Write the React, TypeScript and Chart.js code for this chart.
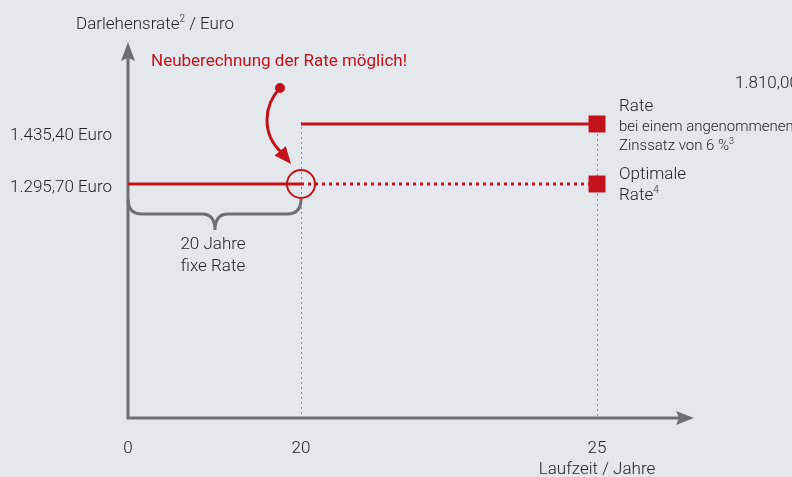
import React, { useEffect, useRef } from 'react';
import { Chart, registerables, LinearScale } from 'chart.js';

// ---- data ----
const X_TICKS = [0, 20, 25];
const YEARS_FIXED = [0, 20];
const YEARS_AFTER = [20, 25];
const RATE_FIXED = 1295.7;
const RATE_NEW = 1435.4;
const RATE_HIGH = 1810.0;
const Y_LABEL_VALUES = [RATE_NEW, RATE_FIXED];

// ---- axis layout (schematic, piecewise x axis) ----
const X_KNOTS = [0, 20, 25, 26.6];
const X_WEIGHTS = [173, 296, 93];
const Y_MIN = 750.9;
const Y_MAX = 1579.7;

const RED = '#c4121c';
const GREY = '#6c7074';
const TEXT = '#222325';
const BG = '#e4e8ec';

const fmt = (v: number) => {
  const [i, d] = v.toFixed(2).split('.');
  return i.replace(/\B(?=(\d{3})+(?!\d))/g, '.') + ',' + d;
};

class PiecewiseScale extends LinearScale {
  static id = 'piecewise';
  static defaults = LinearScale.defaults;
  getPixelForValue(value: number) {
    const total = X_WEIGHTS.reduce((a, b) => a + b, 0);
    let acc = 0;
    for (let i = 0; i < X_WEIGHTS.length; i++) {
      const a = X_KNOTS[i], b = X_KNOTS[i + 1];
      if (value <= b || i === X_WEIGHTS.length - 1) {
        const f = acc + (X_WEIGHTS[i] * (value - a)) / (b - a);
        return (this as any).left + ((this as any).width * f) / total;
      }
      acc += X_WEIGHTS[i];
    }
    return (this as any).right;
  }
  getValueForPixel(pixel: number) {
    const total = X_WEIGHTS.reduce((a, b) => a + b, 0);
    const f = ((pixel - (this as any).left) / (this as any).width) * total;
    let acc = 0;
    for (let i = 0; i < X_WEIGHTS.length; i++) {
      if (f <= acc + X_WEIGHTS[i] || i === X_WEIGHTS.length - 1) {
        return X_KNOTS[i] + ((f - acc) / X_WEIGHTS[i]) * (X_KNOTS[i + 1] - X_KNOTS[i]);
      }
      acc += X_WEIGHTS[i];
    }
    return X_KNOTS[X_KNOTS.length - 1];
  }
}

Chart.register(...registerables, PiecewiseScale as any);

// text with optional superscript parts marked as ^x^
function txt(ctx: CanvasRenderingContext2D, s: string, x: number, y: number, size: number, weight: number, color: string, align: CanvasTextAlign = 'left') {
  ctx.save();
  ctx.fillStyle = color;
  ctx.textBaseline = 'alphabetic';
  const parts = s.split('^');
  const fonts = parts.map((_, i) => `${weight} ${i % 2 ? Math.round(size * 0.6) : size}px Roboto`);
  let total = 0;
  const widths = parts.map((p, i) => {
    ctx.font = fonts[i];
    const w = ctx.measureText(p).width;
    total += w;
    return w;
  });
  let cx = align === 'center' ? x - total / 2 : align === 'right' ? x - total : x;
  ctx.textAlign = 'left';
  parts.forEach((p, i) => {
    ctx.font = fonts[i];
    ctx.fillText(p, cx, i % 2 ? y - size * 0.42 : y);
    cx += widths[i];
  });
  ctx.restore();
}

const decor = {
  id: 'decor',
  beforeDraw(chart: any) {
    const ctx = chart.ctx;
    ctx.save();
    ctx.fillStyle = BG;
    ctx.fillRect(0, 0, chart.width, chart.height);
    ctx.restore();
  },
  beforeDatasetsDraw(chart: any) {
    const ctx: CanvasRenderingContext2D = chart.ctx;
    const xs = chart.scales.x, ys = chart.scales.y;
    const x0 = xs.getPixelForValue(0);
    const yb = ys.getPixelForValue(Y_MIN);
    // grey dotted verticals
    ctx.save();
    ctx.strokeStyle = '#8a8d90';
    ctx.lineWidth = 1;
    ctx.setLineDash([2, 3]);
    const x20 = xs.getPixelForValue(YEARS_AFTER[0]);
    const x25 = xs.getPixelForValue(YEARS_AFTER[1]);
    ctx.beginPath();
    ctx.moveTo(x20 + 0.5, ys.getPixelForValue(RATE_NEW) - 2);
    ctx.lineTo(x20 + 0.5, yb);
    ctx.moveTo(x25 + 0.5, ys.getPixelForValue(RATE_NEW));
    ctx.lineTo(x25 + 0.5, yb);
    ctx.stroke();
    ctx.restore();

    // axes
    ctx.save();
    ctx.strokeStyle = GREY;
    ctx.fillStyle = GREY;
    ctx.lineWidth = 3;
    ctx.beginPath();
    ctx.moveTo(x0, yb + 1.5);
    ctx.lineTo(x0, 58);
    ctx.moveTo(x0 - 1.5, yb);
    ctx.lineTo(680, yb);
    ctx.stroke();
    // y arrow
    ctx.beginPath();
    ctx.moveTo(x0, 42);
    ctx.lineTo(x0 + 7, 61);
    ctx.lineTo(x0, 58);
    ctx.lineTo(x0 - 7, 61);
    ctx.closePath();
    ctx.fill();
    // x arrow
    ctx.beginPath();
    ctx.moveTo(694, yb);
    ctx.lineTo(676, yb - 7);
    ctx.lineTo(679, yb);
    ctx.lineTo(676, yb + 7);
    ctx.closePath();
    ctx.fill();
    ctx.restore();
  },
  afterDatasetsDraw(chart: any) {
    const ctx: CanvasRenderingContext2D = chart.ctx;
    const xs = chart.scales.x, ys = chart.scales.y;
    const x0 = xs.getPixelForValue(0);
    const x20 = xs.getPixelForValue(YEARS_AFTER[0]);
    const x25 = xs.getPixelForValue(YEARS_AFTER[1]);
    const yFix = ys.getPixelForValue(RATE_FIXED);
    const yb = ys.getPixelForValue(Y_MIN);

    // circle
    ctx.save();
    ctx.strokeStyle = RED;
    ctx.lineWidth = 2;
    ctx.beginPath();
    ctx.arc(x20, yFix, 14, 0, Math.PI * 2);
    ctx.stroke();

    // curved arrow
    ctx.fillStyle = RED;
    ctx.beginPath();
    ctx.arc(280, 88, 5, 0, Math.PI * 2);
    ctx.fill();
    ctx.lineWidth = 3;
    ctx.beginPath();
    ctx.moveTo(280, 88);
    ctx.bezierCurveTo(263, 106, 262, 134, 281, 152);
    ctx.stroke();
    ctx.beginPath();
    ctx.moveTo(291, 164);
    ctx.lineTo(274.5, 155.5);
    ctx.lineTo(285.8, 146.2);
    ctx.closePath();
    ctx.fill();
    ctx.restore();

    // brace
    ctx.save();
    ctx.strokeStyle = GREY;
    ctx.lineWidth = 3;
    const mid = (x0 + x20) / 2 + 0.5;
    ctx.beginPath();
    ctx.moveTo(x0, 199);
    ctx.quadraticCurveTo(x0, 214, x0 + 14, 214);
    ctx.lineTo(mid - 13, 214);
    ctx.quadraticCurveTo(mid, 214, mid, 230);
    ctx.quadraticCurveTo(mid, 214, mid + 13, 214);
    ctx.lineTo(x20 - 14, 214);
    ctx.quadraticCurveTo(x20, 214, x20, 199);
    ctx.stroke();
    ctx.restore();

    // titles
    txt(ctx, 'Darlehensrate^2^ / Euro', 76, 29, 17, 300, TEXT);
    txt(ctx, 'Neuberechnung der Rate möglich!', 151, 66, 17, 400, RED);
    // y labels
    const yOff = [16, 8];
    Y_LABEL_VALUES.forEach((v, i) => {
      txt(ctx, fmt(v) + ' Euro', 112, ys.getPixelForValue(v) + yOff[i], 17, 300, TEXT, 'right');
    });
    // brace label
    txt(ctx, '20 Jahre', mid - 2, 249, 17, 300, TEXT, 'center');
    txt(ctx, 'fixe Rate', mid - 2, 271, 17, 300, TEXT, 'center');
    // x ticks
    X_TICKS.forEach((t) => {
      txt(ctx, String(t), xs.getPixelForValue(t), yb + 35, 17, 300, TEXT, 'center');
    });
    txt(ctx, 'Laufzeit / Jahre', x25, yb + 56, 17, 300, TEXT, 'center');
    // right labels
    txt(ctx, fmt(RATE_HIGH), 735, 88, 17, 300, TEXT);
    txt(ctx, 'Rate', 619, 111, 17, 300, TEXT);
    txt(ctx, 'bei einem angenommenen', 619, 131, 15, 300, TEXT);
    txt(ctx, 'Zinssatz von 6 %^3^', 619, 150, 15, 300, TEXT);
    txt(ctx, 'Optimale', 619, 179, 17, 300, TEXT);
    txt(ctx, 'Rate^4^', 619, 200, 17, 300, TEXT);
  },
};

export default function App() {
  const ref = useRef<HTMLCanvasElement>(null);
  useEffect(() => {
    if (!ref.current) return;
    const chart = new Chart(ref.current, {
      type: 'line',
      data: {
        datasets: [
          {
            label: 'fixe Rate',
            data: YEARS_FIXED.map((x) => ({ x, y: RATE_FIXED })),
            borderColor: RED,
            borderWidth: 3,
            pointRadius: 0,
          },
          {
            label: 'Rate bei 6 %',
            data: YEARS_AFTER.map((x) => ({ x, y: RATE_NEW })),
            borderColor: RED,
            borderWidth: 3,
            pointRadius: [0, 12],
            pointStyle: 'rect',
            pointBackgroundColor: RED,
            pointBorderWidth: 0,
          },
          {
            label: 'Optimale Rate',
            data: YEARS_AFTER.map((x) => ({ x, y: RATE_FIXED })),
            borderColor: RED,
            borderWidth: 3,
            borderDash: [3, 4],
            pointRadius: [0, 12],
            pointStyle: 'rect',
            pointBackgroundColor: RED,
            pointBorderWidth: 0,
          },
        ] as any,
      },
      options: {
        animation: false,
        responsive: false,
        devicePixelRatio: 1,
        layout: { padding: { left: 128, right: 102, top: 62, bottom: 59 } },
        plugins: { legend: { display: false }, tooltip: { enabled: false } },
        scales: {
          x: { type: 'piecewise' as any, min: X_KNOTS[0], max: X_KNOTS[X_KNOTS.length - 1], display: false },
          y: { type: 'linear', min: Y_MIN, max: Y_MAX, display: false },
        },
      } as any,
      plugins: [decor],
    });
    return () => chart.destroy();
  }, []);
  return (
    <div style={{ position: 'fixed', left: 0, top: 0, width: 792, height: 477, background: BG }}>
      <canvas ref={ref} width={792} height={477} />
    </div>
  );
}
